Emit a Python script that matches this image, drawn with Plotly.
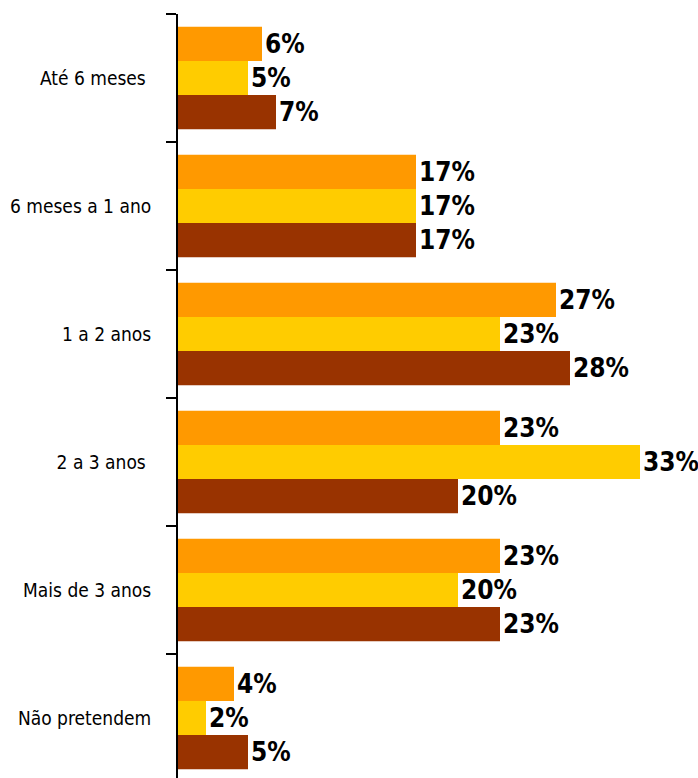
import plotly.graph_objects as go

# Categories (top to bottom) and the three series, in percent
categories = ["Até 6 meses ", "6 meses a 1 ano", "1 a 2 anos", "2 a 3 anos ", "Mais de 3 anos", "Não pretendem"]
serie_1 = [6, 17, 27, 23, 23, 4]
serie_2 = [5, 17, 23, 33, 20, 2]
serie_3 = [7, 17, 28, 20, 23, 5]

series = [
    ("Série 1", serie_1, "#FF9900"),
    ("Série 2", serie_2, "#FFCC00"),
    ("Série 3", serie_3, "#993300"),
]

condensed = "DejaVu Sans Condensed, Liberation Sans Narrow, Roboto Condensed, sans-serif"

fig = go.Figure()
for name, values, color in series:
    fig.add_trace(go.Bar(
        y=categories,
        x=values,
        name=name,
        orientation="h",
        marker=dict(color=color, line=dict(width=0)),
        text=[f"{v}%" for v in values],
        textposition="outside",
        constraintext="none",
        cliponaxis=False,
        textfont=dict(family=condensed, size=26, color="#000000", weight="bold"),
    ))

px_per_unit = 14.0
plot_left = 178
fig_w, fig_h = 698, 778
plot_top = 14

fig.update_layout(
    width=fig_w,
    height=fig_h,
    margin=dict(l=plot_left, r=0, t=plot_top, b=0),
    paper_bgcolor="white",
    plot_bgcolor="white",
    barmode="group",
    bargap=0.2,
    bargroupgap=0,
    showlegend=False,
    xaxis=dict(
        range=[0, (fig_w - plot_left) / px_per_unit],
        showgrid=False,
        zeroline=False,
        showticklabels=False,
        ticks="",
        showline=False,
        automargin=False,
    ),
    yaxis=dict(
        type="category",
        range=[-0.5 + (fig_h - plot_top) / 128.0, -0.5],
        automargin=False,
        showline=True,
        linecolor="#000000",
        linewidth=2,
        ticks="outside",
        tickson="boundaries",
        ticklen=10,
        tickwidth=2,
        tickcolor="#000000",
        showgrid=False,
        ticklabelstandoff=21,
        tickfont=dict(family=condensed, size=19, color="#000000"),
    ),
)

fig.write_html("out.html")
